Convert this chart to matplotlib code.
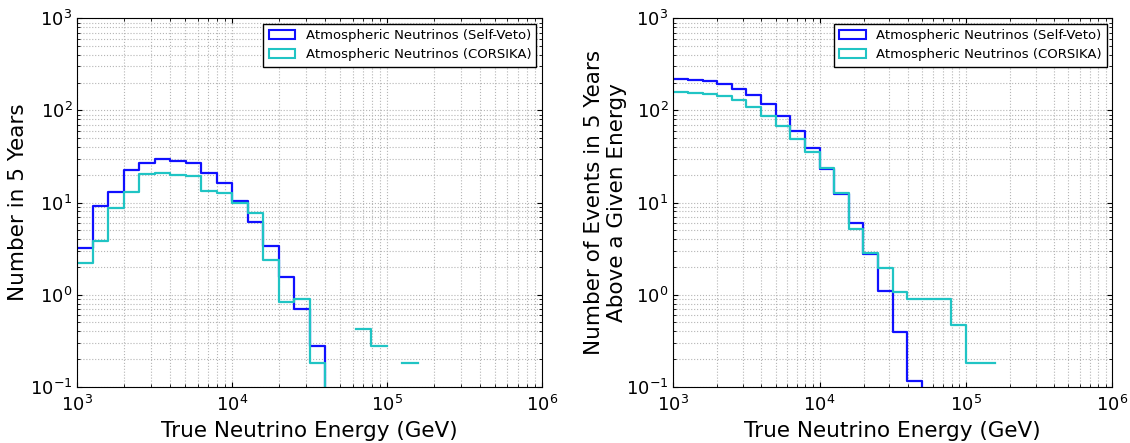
import numpy as np
import matplotlib
matplotlib.use("Agg")
import matplotlib.pyplot as plt
from matplotlib.patches import Patch

# bin edges: 10 log bins per decade starting at 1 TeV
edges = np.logspace(3, 5.2, 23)

# per-bin counts (None = empty bin, 0.0 = drops below the axis)
diff_selfveto = [3.2, 9.2, 13.1, 22.5, 27, 29.4, 28.5, 27, 21, 16.1, 10.4,
                 6.2, 3.4, 1.54, 0.7, 0.28, 0.0]
diff_corsika = [2.2, 3.85, 8.8, 13.1, 20.4, 21, 20, 19.5, 13.3, 12.6, 10,
                7.7, 2.4, 0.84, 0.89, 0.18, 0.0, None, 0.42, 0.28, None, 0.18]

# cumulative counts above a given energy
cum_selfveto = [219, 214, 208, 195, 172, 147, 117, 88, 60, 39, 23.1, 12.4,
                6.0, 2.75, 1.09, 0.39, 0.115, 0.0]
cum_corsika = [157, 155, 151, 144, 129, 109, 88, 68, 49, 35.6, 23.5, 12.8,
               5.2, 2.85, 1.96, 1.07, 0.89, 0.89, 0.89, 0.47, 0.18, 0.18]

labels = ["Atmospheric Neutrinos (Self-Veto)", "Atmospheric Neutrinos (CORSIKA)"]
colors = ["#1010ff", "#20c4c4"]


def step_xy(edges, values):
    """build step outline, breaking the line at empty bins"""
    xs, ys = [], []
    prev = None
    for i, v in enumerate(values):
        if v is None:
            if prev is not None:
                xs.append(np.nan)
                ys.append(np.nan)
            prev = None
            continue
        xs += [edges[i], edges[i + 1]]
        ys += [v, v]
        prev = v
    return np.array(xs, dtype=float), np.array(ys, dtype=float)


def style_axes(ax):
    ax.set_xscale("log")
    ax.set_yscale("log")
    ax.set_xlim(1e3, 1e6)
    ax.set_ylim(1e-1, 1e3)
    ax.grid(True, which="both", linestyle=":", color="#b5b5b5", linewidth=0.8)
    ax.set_axisbelow(True)
    ax.tick_params(which="both", direction="in", top=True, right=True,
                   labelsize=13)
    ax.tick_params(axis="x", pad=6)
    ax.set_xlabel("True Neutrino Energy (GeV)", fontsize=15.5)
    handles = [Patch(facecolor="none", edgecolor=c, linewidth=1.5) for c in colors]
    leg = ax.legend(handles, labels, loc="upper right", fontsize=9.5,
                    fancybox=False, framealpha=1, borderaxespad=0.4)
    leg.get_frame().set_edgecolor("black")


fig = plt.figure(figsize=(11.3, 4.43), dpi=100)
ax1 = fig.add_axes([0.0684, 0.127, 0.411, 0.8316])
ax2 = fig.add_axes([0.5958, 0.127, 0.3885, 0.8316])

for vals, c in zip([diff_selfveto, diff_corsika], colors):
    x, y = step_xy(edges, vals)
    ax1.plot(x, y, color=c, linewidth=1.6)
style_axes(ax1)
ax1.set_ylabel("Number in 5 Years", fontsize=15.5)
ax1.yaxis.set_label_coords(-0.107, 0.5)

for vals, c in zip([cum_selfveto, cum_corsika], colors):
    x, y = step_xy(edges, vals)
    ax2.plot(x, y, color=c, linewidth=1.6)
style_axes(ax2)
ax2.set_ylabel("Number of Events in 5 Years\nAbove a Given Energy",
               fontsize=15.5)
ax2.yaxis.set_label_coords(-0.105, 0.5)

fig.savefig("out.png", dpi=100)
